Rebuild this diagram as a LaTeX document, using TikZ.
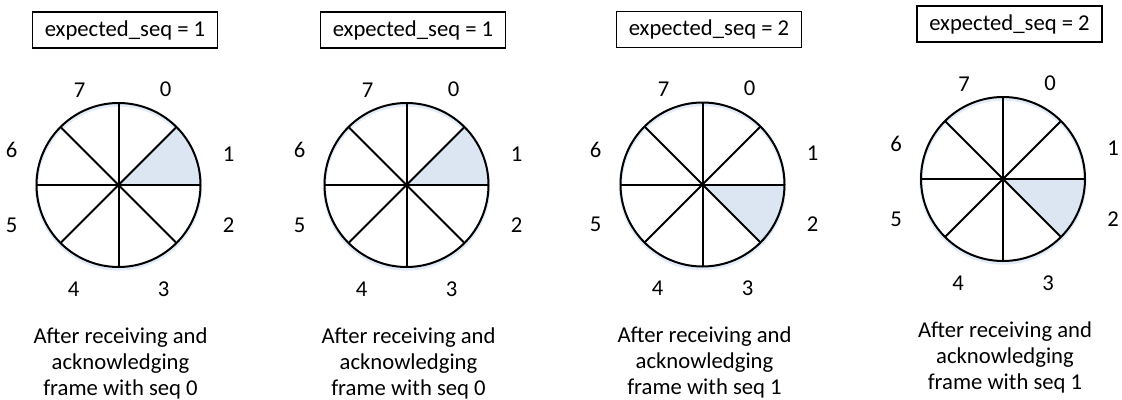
\documentclass[tikz,border=0pt]{standalone}
\usepackage{fontspec}
\setmainfont{Carlito}
\usetikzlibrary{calc}
\definecolor{hlblue}{HTML}{DCE6F2}
\definecolor{glow}{HTML}{C6D9F1}
\begin{document}
\begin{tikzpicture}[x=0.75pt,y=0.75pt,
  seg/.style={line width=1.5pt, black},
  ring/.style={line width=1.5pt, black},
  glowring/.style={line width=2.5pt, glow, opacity=0.5},
  seqbox/.style={draw, line width=0.8pt, minimum width=138.75pt, minimum height=27pt, inner sep=0pt, font=\fontsize{17}{20}\selectfont},
  num/.style={font=\fontsize{17}{20}\selectfont, inner sep=0pt},
  capt/.style={font=\fontsize{17}{19.5}\selectfont, align=center, inner sep=0pt, anchor=base}]
\useasboundingbox (0,0) rectangle (1122,-400);
\foreach \i/\cx/\cy/\e/\f/\a in {1/118.5/185/1/0/0, 2/406.5/185/1/0/0, 3/702.5/184.5/2/1/-45, 4/1003/179/2/1/-45} {
  \coordinate (c\i) at (\cx,-\cy);
  \draw[glowring] ($(c\i)+(0,-2)$) circle[radius=82];
  \fill[hlblue] (c\i) -- ++(\a:82) arc[start angle=\a, end angle=\a+45, radius=82] -- cycle;
  \foreach \t in {0,45,90,135} \draw[seg] ($(c\i)+(\t:82)$) -- ($(c\i)+(\t+180:82)$);
  \draw[ring] (c\i) circle[radius=82];
  \node[seqbox] (box\i) at ($(c\i)+(6.5,155)$) {expected\_seq = \e};
  \foreach \n/\dx/\dy in {0/47/96, 1/110/31, 2/110/-40, 3/45/-104, 4/-45/-104, 5/-107/-40, 6/-107/35, 7/-39/95}
    \node[num] (l\i-\n) at ($(c\i)+(\dx,\dy)$) {\n};
  \node[capt] (cap\i) at ($(c\i)+(2,-210)$) {After receiving and\\acknowledging\\frame with seq \f};
}
\end{tikzpicture}
\end{document}
